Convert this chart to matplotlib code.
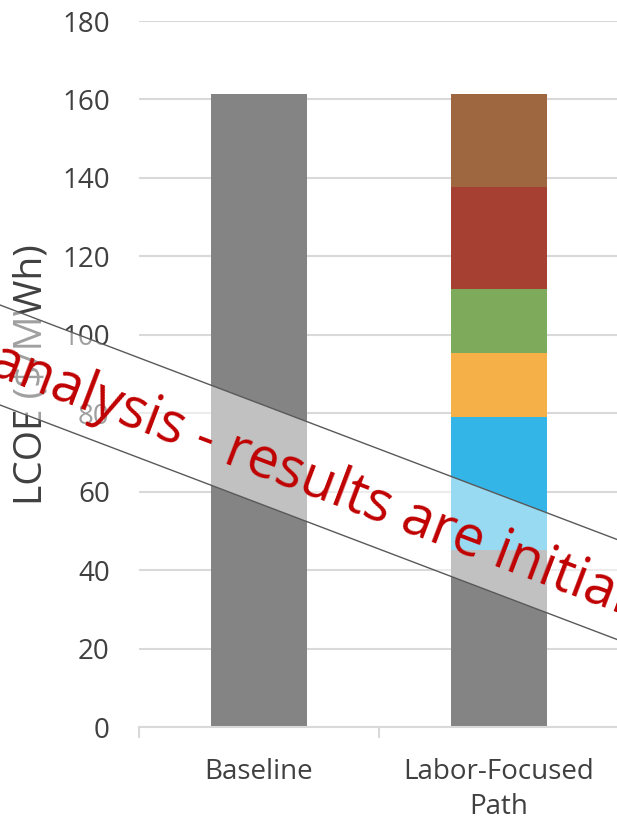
import matplotlib
matplotlib.use("Agg")
import matplotlib.pyplot as plt
import numpy as np
from matplotlib.patches import Polygon

plt.rcParams['font.family'] = ['Open Sans', 'DejaVu Sans']

# Cost components per pathway ($/MWh)
categories = ["Baseline", "Labor-Focused\nPath"]
base_cost = [161.5, 45.2]
comp_blue = [0.0, 33.9]
comp_orange = [0.0, 16.2]
comp_green = [0.0, 16.4]
comp_red = [0.0, 26.1]
comp_brown = [0.0, 23.7]

series = [base_cost, comp_blue, comp_orange, comp_green, comp_red, comp_brown]
colors = ["#848484", "#33b5e8", "#f5b147", "#7eab5b", "#a64032", "#9e6740"]

yticks = [0, 20, 40, 60, 80, 100, 120, 140, 160, 180]

W, H = 617, 821
fig = plt.figure(figsize=(W / 100, H / 100), dpi=100)
ax = fig.add_axes([139 / W, (H - 727.3) / H, 480 / W, 706.3 / H])

x = np.arange(len(categories))
bottom = np.zeros(len(categories))
for vals, col in zip(series, colors):
    ax.bar(x, vals, width=0.4, bottom=bottom, color=col, zorder=2)
    bottom += np.array(vals)

ax.set_xlim(-0.5, 1.5)
ax.set_ylim(0, 180)
ax.set_yticks(yticks)
ax.yaxis.grid(True, color="#d9d9d9", linewidth=1.5, zorder=0)
ax.set_axisbelow(True)
for s in ["left", "right", "top"]:
    ax.spines[s].set_visible(False)
ax.spines["bottom"].set_color("#d9d9d9")
ax.spines["bottom"].set_linewidth(1.5)
ax.tick_params(axis="y", length=0, pad=21, labelsize=20, labelcolor="#404040")

ax.set_xticks(x)
ax.set_xticklabels(categories, linespacing=1.35)
ax.set_xticks([-0.5, 0.5, 1.5], minor=True)
ax.tick_params(axis="x", which="major", length=0, pad=22, labelsize=20, labelcolor="#404040")
ax.tick_params(axis="x", which="minor", length=8, width=1.5, color="#d9d9d9", direction="out")

ax.set_ylabel("LCOE ($/MWh)", fontsize=28, color="#404040", labelpad=8)

# Diagonal draft banner across the figure
ov = fig.add_axes([0, 0, 1, 1], zorder=10)
ov.set_xlim(0, W)
ov.set_ylim(H, 0)
ov.axis("off")
slope = 0.38
x0, x1 = -60, W + 60
band = Polygon([(x0, 305 + slope * x0), (x1, 305 + slope * x1),
                (x1, 405 + slope * x1), (x0, 405 + slope * x0)],
               closed=True, facecolor=(1, 1, 1, 0.5), edgecolor="#595959",
               linewidth=1.0)
ov.add_patch(band)
angle = np.degrees(np.arctan(slope))
ov.text(310, 480, "analysis - results are initial", rotation=-angle,
        rotation_mode="anchor", ha="center", va="center",
        fontsize=40, color="#c00000")

fig.savefig("out.png", dpi=100)
